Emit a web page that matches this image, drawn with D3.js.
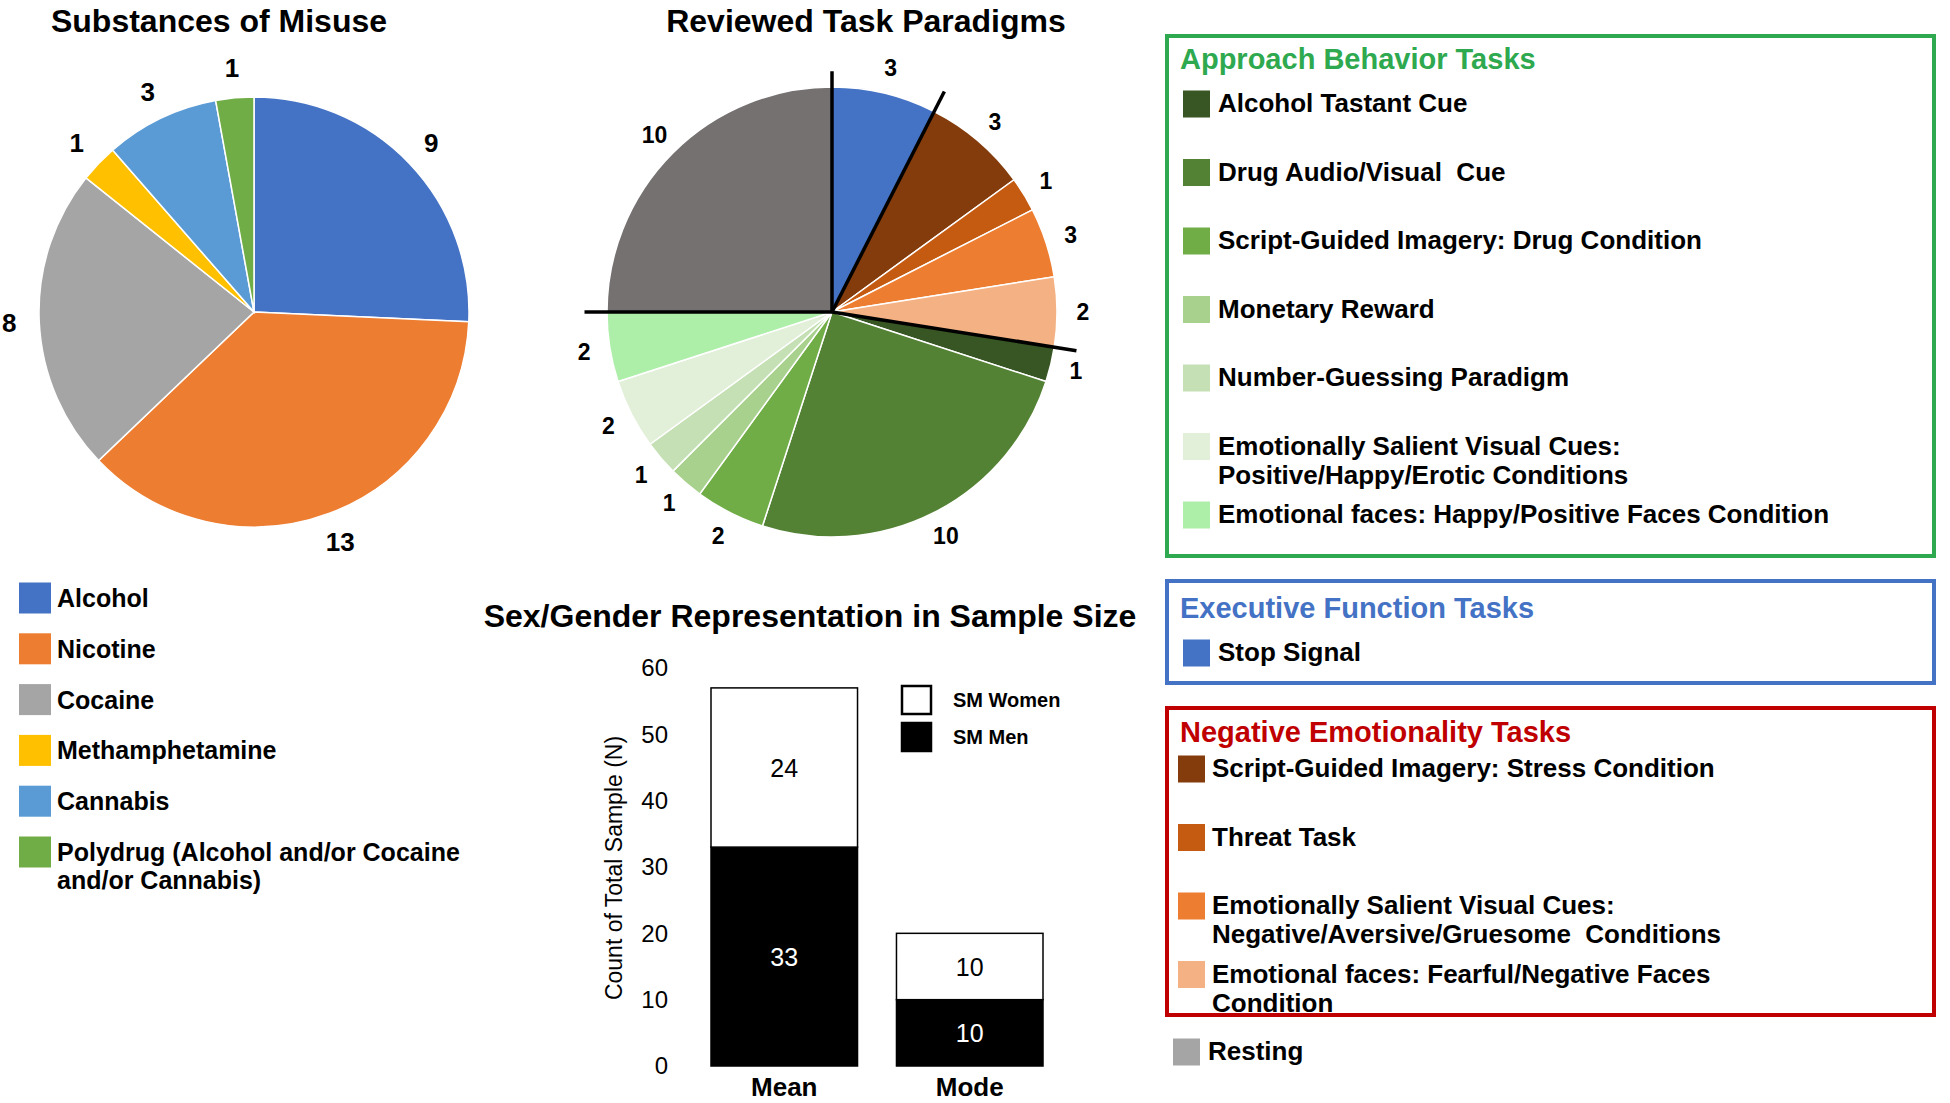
<!DOCTYPE html>
<html><head><meta charset="utf-8">
<script src="https://cdn.jsdelivr.net/npm/d3@7"></script>
<style>
body{margin:0;background:#fff;}
svg{display:block;font-family:"Liberation Sans",Arial,Helvetica,sans-serif;}
</style>
</head><body>
<svg id="chart" width="1950" height="1103"></svg>
<script>
// ---------------- DATA ----------------
const substanceNames = ["Alcohol","Nicotine","Cocaine","Methamphetamine","Cannabis","Polydrug (Alcohol and/or Cocaine and/or Cannabis)"];
const substanceCounts = [9,13,8,1,3,1];
const substanceColors = ["#4472C4","#ED7D31","#A5A5A5","#FFC000","#5B9BD5","#70AD47"];
const substanceLegendLines = [["Alcohol"],["Nicotine"],["Cocaine"],["Methamphetamine"],["Cannabis"],["Polydrug (Alcohol and/or Cocaine","and/or Cannabis)"]];

const taskNames = ["Stop Signal","Script-Guided Imagery: Stress Condition","Threat Task",
  "Emotionally Salient Visual Cues: Negative/Aversive/Gruesome  Conditions",
  "Emotional faces: Fearful/Negative Faces Condition","Alcohol Tastant Cue","Drug Audio/Visual  Cue",
  "Script-Guided Imagery: Drug Condition","Monetary Reward","Number-Guessing Paradigm",
  "Emotionally Salient Visual Cues: Positive/Happy/Erotic Conditions",
  "Emotional faces: Happy/Positive Faces Condition","Resting"];
// slice sizes as drawn in the picture
const taskSliceValues = [3,3,1,2,2,1,10,2,1,1,2,2,10];
// numbers printed next to the slices
const taskValueLabels = ["3","3","1","3","2","1","10","2","1","1","2","2","10"];
const taskColors = ["#4472C4","#843C0C","#C55A11","#ED7D31","#F4B183","#375623","#548235","#70AD47","#A9D18E","#C5E0B4","#E2F0D9","#ADEEA9","#767171"];
const taskGroups = ["exec","neg","neg","neg","neg","app","app","app","app","app","app","app","rest"];
const taskLegendLines = [["Stop Signal"],["Script-Guided Imagery: Stress Condition"],["Threat Task"],
  ["Emotionally Salient Visual Cues:","Negative/Aversive/Gruesome  Conditions"],
  ["Emotional faces: Fearful/Negative Faces","Condition"],["Alcohol Tastant Cue"],["Drug Audio/Visual  Cue"],
  ["Script-Guided Imagery: Drug Condition"],["Monetary Reward"],["Number-Guessing Paradigm"],
  ["Emotionally Salient Visual Cues:","Positive/Happy/Erotic Conditions"],
  ["Emotional faces: Happy/Positive Faces Condition"],["Resting"]];
const restingLegendColor = "#A5A5A5";

const groupKeys = ["app","exec","neg"];
const groupTitles = ["Approach Behavior Tasks","Executive Function Tasks","Negative Emotionality Tasks"];
const groupColors = ["#2EA94F","#4472C4","#C00000"];

const barCategories = ["Mean","Mode"];
const smMen = [33,10];
const smWomen = [24,10];
const yTicks = [0,10,20,30,40,50,60];
const barSeries = ["SM Women","SM Men"];

// ---------------- DRAW ----------------
const svg = d3.select("#chart");
const FONT_B = "bold";

function title(x, y, txt){
  svg.append("text").attr("x",x).attr("y",y).attr("text-anchor","middle")
    .attr("font-size",32).attr("font-weight",FONT_B).attr("fill","#000").text(txt);
}

// ---- Pie 1: Substances of Misuse ----
title(219, 32, "Substances of Misuse");
{
  const cx = 254, cy = 312, r = 215;
  const g = svg.append("g").attr("transform",`translate(${cx},${cy})`);
  const pie = d3.pie().sort(null).value(d=>d.v);
  const data = pie(substanceCounts.map((v,i)=>({v, i})));
  const arc = d3.arc().innerRadius(0).outerRadius(r);
  const labelArc = d3.arc().innerRadius(r*1.14).outerRadius(r*1.14);
  g.selectAll("path").data(data).join("path")
    .attr("d",arc).attr("fill",d=>substanceColors[d.data.i])
    .attr("stroke","#fff").attr("stroke-width",1.5);
  g.selectAll("text").data(data).join("text")
    .attr("transform",d=>`translate(${labelArc.centroid(d)})`)
    .attr("text-anchor","middle").attr("dy","0.36em")
    .attr("font-size",26).attr("font-weight",FONT_B).text(d=>d.data.v);
}

// ---- Legend 1 ----
{
  const g = svg.append("g");
  const x0 = 19, size = 31, tx = 57, y0 = 598, step = 50.8;
  substanceNames.forEach((n,i)=>{
    const cy = y0 + i*step;
    g.append("rect").attr("x",x0).attr("y",cy-size/2).attr("width",size+1).attr("height",size)
      .attr("fill",substanceColors[i]);
    const t = g.append("text").attr("font-size",25).attr("font-weight",FONT_B);
    substanceLegendLines[i].forEach((line,k)=>{
      t.append("tspan").attr("x",tx).attr("y",cy + k*28).attr("dy","0.36em").text(line);
    });
  });
}

// ---- Pie 2: Reviewed Task Paradigms ----
title(866, 32, "Reviewed Task Paradigms");
{
  const cx = 832, cy = 312, r = 225;
  const g = svg.append("g").attr("transform",`translate(${cx},${cy})`);
  const pie = d3.pie().sort(null).value(d=>d.v);
  const data = pie(taskSliceValues.map((v,i)=>({v, i})));
  const arc = d3.arc().innerRadius(0).outerRadius(r);
  const labelArc = d3.arc().innerRadius(r*1.115).outerRadius(r*1.115);
  g.selectAll("path").data(data).join("path")
    .attr("d",arc).attr("fill",d=>taskColors[d.data.i])
    .attr("stroke","#fff").attr("stroke-width",1.5);
  g.selectAll("text.lbl").data(data).join("text").attr("class","lbl")
    .attr("transform",d=>`translate(${labelArc.centroid(d)})`)
    .attr("text-anchor","middle").attr("dy","0.36em")
    .attr("font-size",23).attr("font-weight",FONT_B).text(d=>taskValueLabels[d.data.i]);
  // group separator lines
  const n = data.length;
  const bounds = [];
  for(let k=0;k<n;k++){
    const next = (k+1)%n;
    if(taskGroups[k] !== taskGroups[next]) bounds.push(data[k].endAngle % (2*Math.PI));
  }
  g.selectAll("line.sep").data(bounds).join("line").attr("class","sep")
    .attr("x1",0).attr("y1",0)
    .attr("x2",a=>Math.sin(a)*r*(a===0?1.07:1.1)).attr("y2",a=>-Math.cos(a)*r*(a===0?1.07:1.1))
    .attr("stroke","#000").attr("stroke-width",3.5);
}

// ---- Task legends ----
{
  const g = svg.append("g");
  const boxes = [
    {key:"app", x:1167, y:36, w:767, h:520, titleY:59, firstY:103, sx:1183, tx:1218},
    {key:"exec", x:1167, y:581, w:767, h:102, titleY:608, firstY:652, sx:1183, tx:1218},
    {key:"neg", x:1167, y:708, w:767, h:307, titleY:732, firstY:768, sx:1178, tx:1212}
  ];
  const step = 68.5, lineH = 29, size = 27;
  boxes.forEach(b=>{
    const gi = groupKeys.indexOf(b.key);
    g.append("rect").attr("x",b.x).attr("y",b.y).attr("width",b.w).attr("height",b.h)
      .attr("fill","none").attr("stroke",groupColors[gi]).attr("stroke-width",4);
    g.append("text").attr("x",1180).attr("y",b.titleY).attr("dy","0.36em")
      .attr("font-size",29).attr("font-weight",FONT_B).attr("fill",groupColors[gi]).text(groupTitles[gi]);
    const idx = taskGroups.map((k,i)=>k===b.key?i:-1).filter(i=>i>=0);
    idx.forEach((ti,j)=>{
      const cy = b.firstY + j*step;
      g.append("rect").attr("x",b.sx).attr("y",cy-size/2+1).attr("width",size).attr("height",size)
        .attr("fill",taskColors[ti]);
      const t = g.append("text").attr("font-size",26).attr("font-weight",FONT_B);
      taskLegendLines[ti].forEach((line,k)=>{
        t.append("tspan").attr("x",b.tx).attr("y",cy+k*lineH).attr("dy","0.36em").attr("xml:space","preserve").text(line);
      });
    });
  });
  const ri = taskGroups.indexOf("rest");
  g.append("rect").attr("x",1173).attr("y",1051-size/2+1).attr("width",size).attr("height",size).attr("fill",restingLegendColor);
  g.append("text").attr("x",1208).attr("y",1051).attr("dy","0.36em").attr("font-size",26).attr("font-weight",FONT_B).text(taskLegendLines[ri][0]);
}

// ---- Bar chart ----
title(810, 627, "Sex/Gender Representation in Sample Size");
{
  const y = d3.scaleLinear().domain([0,60]).range([1066,668]);
  const x = d3.scaleBand().domain(barCategories).range([711,1043]).paddingInner(0.21).paddingOuter(0);
  const g = svg.append("g");
  const stackData = barCategories.map((c,i)=>({cat:c, men:smMen[i], women:smWomen[i]}));
  const stack = d3.stack().keys(["men","women"])(stackData);
  const fills = {men:"#000", women:"#fff"};
  const textFill = {men:"#fff", women:"#000"};
  stack.forEach(layer=>{
    g.selectAll(null).data(layer).join("rect")
      .attr("x",d=>x(d.data.cat)).attr("width",x.bandwidth())
      .attr("y",d=>y(d[1])).attr("height",d=>y(d[0])-y(d[1]))
      .attr("fill",fills[layer.key]).attr("stroke","#000").attr("stroke-width",1.5);
    g.selectAll(null).data(layer).join("text")
      .attr("x",d=>x(d.data.cat)+x.bandwidth()/2).attr("y",d=>y((d[0]+d[1])/2))
      .attr("dy","0.36em").attr("text-anchor","middle").attr("font-size",25)
      .attr("fill",textFill[layer.key]).text(d=>d[1]-d[0]);
  });
  const ya = g.append("g").attr("transform","translate(676,0)")
    .call(d3.axisLeft(y).tickValues(yTicks).tickSize(0).tickPadding(8));
  ya.select(".domain").remove();
  ya.selectAll("text").attr("font-size",24).attr("font-family",null).attr("fill","#000");
  const xa = g.append("g").attr("transform","translate(0,1066)")
    .call(d3.axisBottom(x).tickSize(0));
  xa.select(".domain").remove();
  xa.selectAll("text").attr("y",30).attr("dy",null).attr("font-size",26).attr("font-weight",FONT_B)
    .attr("font-family",null).attr("fill","#000");
  g.append("text").attr("transform","translate(622,868) rotate(-90)").attr("text-anchor","middle")
    .attr("font-size",23).text("Count of Total Sample (N)");
  // legend
  const lg = g.append("g");
  const legFills = ["#fff","#000"];
  barSeries.forEach((s,i)=>{
    const cy = 700 + i*37;
    lg.append("rect").attr("x",902).attr("y",cy-14).attr("width",29).attr("height",28)
      .attr("fill",legFills[i]).attr("stroke","#000").attr("stroke-width",2.5);
    lg.append("text").attr("x",953).attr("y",cy).attr("dy","0.36em").attr("font-size",20)
      .attr("font-weight",FONT_B).text(s);
  });
}
</script>
</body></html>
